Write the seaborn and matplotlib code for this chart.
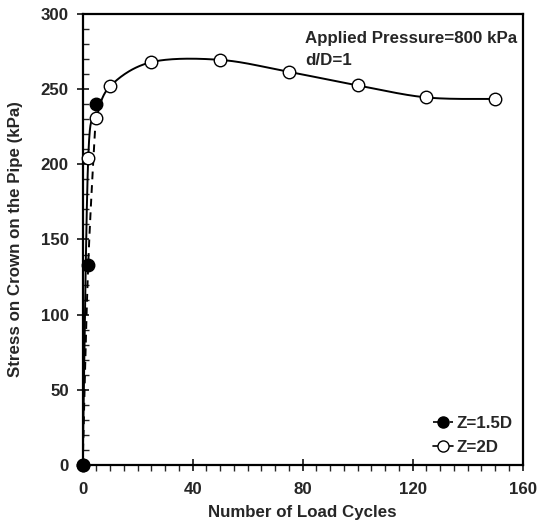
import numpy as np
import seaborn as sns
import matplotlib.pyplot as plt
from matplotlib.lines import Line2D
from matplotlib.ticker import MultipleLocator

# values
cycles_15d = [0, 2, 5]
stress_15d = [0, 133, 240]
cycles_2d = [0, 2, 5, 10, 25, 50, 75, 100, 125, 150]
stress_2d = [0, 204, 231, 252, 268, 269.5, 261.5, 252.5, 244.5, 243.5]

labels = ["Z=1.5D", "Z=2D"]
note_lines = ["Applied Pressure=800 kPa", "d/D=1"]


def smooth_curve(xs, ys, sx=2.75, sy=1.503, n=40):
    # Excel-like smoothed line: Catmull-Rom bezier in screen-ish space
    p = np.column_stack([np.asarray(xs, float) * sx, np.asarray(ys, float) * sy])
    out = []
    for i in range(len(p) - 1):
        p0 = p[i - 1] if i > 0 else p[i]
        p1, p2 = p[i], p[i + 1]
        p3 = p[i + 2] if i + 2 < len(p) else p[i + 1]
        c1 = p1 + (p2 - p0) / 6
        c2 = p2 - (p3 - p1) / 6
        t = np.linspace(0, 1, n)[:, None]
        seg = ((1 - t) ** 3) * p1 + 3 * ((1 - t) ** 2) * t * c1 + 3 * (1 - t) * t ** 2 * c2 + t ** 3 * p2
        out.append(seg if i == 0 else seg[1:])
    out = np.vstack(out)
    return out[:, 0] / sx, out[:, 1] / sy


sns.set_style("ticks")
plt.rcParams['font.family'] = ['Liberation Sans', 'DejaVu Sans']
plt.rcParams['font.weight'] = 'bold'
FS = 12.2

fig = plt.figure(figsize=(5.42, 5.27), dpi=100)
ax = fig.add_axes([0.1526, 0.1177, 0.9644 - 0.1526, 0.9734 - 0.1177])

sx, sy = smooth_curve(cycles_2d, stress_2d)
sns.lineplot(x=sx, y=sy, ax=ax, color='black', lw=1.4, sort=False, estimator=None, zorder=2)
dx, dy = smooth_curve(cycles_15d, stress_15d)
sns.lineplot(x=dx, y=dy, ax=ax, color='black', lw=1.4, sort=False, estimator=None,
             dashes=False, zorder=2).lines[-1].set_linestyle((0, (4, 3)))

ax.plot(cycles_2d, stress_2d, 'o', ms=9, mfc='white', mec='black', mew=1.0, zorder=3, clip_on=False)
ax.plot(cycles_15d, stress_15d, 'o', ms=9, mfc='black', mec='black', mew=1.0, zorder=4, clip_on=False)

ax.set_xlim(0, 160)
ax.set_ylim(0, 300)
ax.xaxis.set_major_locator(MultipleLocator(40))
ax.xaxis.set_minor_locator(MultipleLocator(5))
ax.yaxis.set_major_locator(MultipleLocator(50))
ax.yaxis.set_minor_locator(MultipleLocator(10))
ax.tick_params(axis='x', which='major', direction='inout', length=8, width=1.3, labelsize=FS, pad=8)
ax.tick_params(axis='x', which='minor', direction='out', length=4, width=1.0)
ax.tick_params(axis='y', which='major', direction='inout', length=8, width=1.3, labelsize=FS, pad=6)
ax.tick_params(axis='y', which='minor', direction='in', length=4, width=1.0)
for lab in ax.get_xticklabels() + ax.get_yticklabels():
    lab.set_fontweight('bold')
for s in ax.spines.values():
    s.set_linewidth(1.6)
    s.set_color('black')

ax.set_xlabel("Number of Load Cycles", fontsize=FS, fontweight='bold', labelpad=6)
ax.set_ylabel("Stress on Crown on the Pipe (kPa)", fontsize=FS, fontweight='bold', labelpad=13)

ax.text(0.505, 0.945, note_lines[0], transform=ax.transAxes, fontsize=FS, fontweight='bold', va='center')
ax.text(0.505, 0.898, note_lines[1], transform=ax.transAxes, fontsize=FS, fontweight='bold', va='center')

handles = [
    Line2D([], [], color='black', lw=1.2, ls=(0, (3, 2)), marker='o', ms=8, mfc='black', mec='black'),
    Line2D([], [], color='black', lw=1.2, marker='o', ms=8, mfc='white', mec='black'),
]
ax.legend(handles, labels, loc='lower right', frameon=False, handlelength=1.2,
          handletextpad=0.2, borderaxespad=0.2, labelspacing=0.5, prop={'weight': 'bold', 'size': FS})

fig.savefig("out.png", dpi=100)
